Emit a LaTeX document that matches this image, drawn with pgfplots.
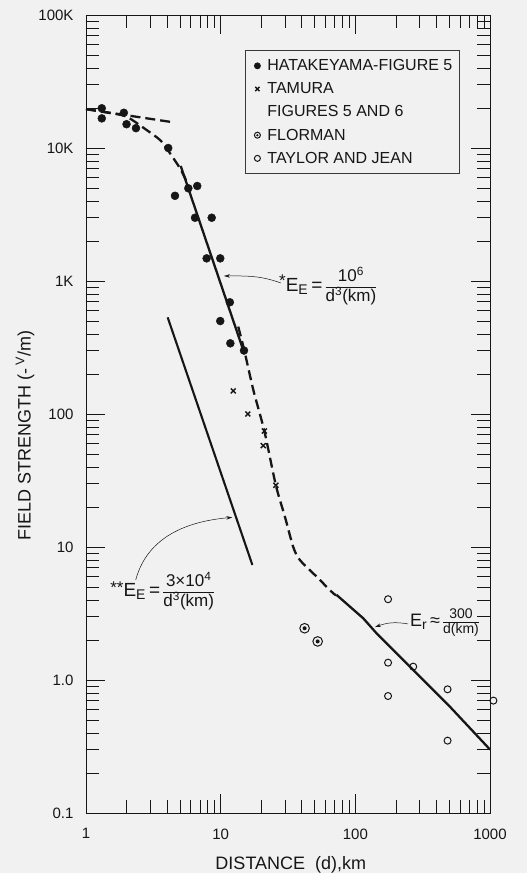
\documentclass[border=0pt]{standalone}
\usepackage{fontspec}
\setmainfont{Liberation Sans}
\usepackage{pgfplots}
\pgfplotsset{compat=1.18}
\usetikzlibrary{arrows.meta}
\definecolor{bg}{RGB}{241,241,241}
\definecolor{ink}{RGB}{22,22,22}
\pgfdeclareplotmark{circdot}{%
  \pgfpathcircle{\pgfpointorigin}{\pgfplotmarksize}\pgfusepathqstroke
  \pgfpathcircle{\pgfpointorigin}{0.42\pgfplotmarksize}\pgfusepathqfill}
\newcommand{\fr}[2]{\renewcommand{\arraystretch}{0.85}\begin{tabular}{@{}c@{}}#1\\\hline #2\end{tabular}}
\begin{document}
\begin{tikzpicture}
\useasboundingbox (-86pt,-60pt) rectangle (441pt,813pt);
\fill[bg] (-86pt,-60pt) rectangle (441pt,813pt);
\begin{axis}[
  scale only axis, width=404pt, height=798pt,
  xmode=log, ymode=log,
  xmin=1, xmax=1000, ymin=0.1, ymax=100000,
  clip=false,
  axis line style={ink, line width=0.8pt},
  tickwidth=19pt, subtickwidth=13pt,
  every tick/.append style={ink, line width=0.6pt},
  xtick={1,10,100,1000}, xticklabels={1,10,100,1000},
  minor xtick={2,3,4,5,6,7,8,9,20,30,40,50,60,70,80,90,200,300,400,500,600,700,800,900},
  ytick={0.1,1,10,100,1000,10000,100000},
  yticklabels={0.1,1.0,10,100,1K,10K,100K},
  minor ytick={0.2,0.3,0.4,0.5,0.6,0.7,0.8,0.9,2,3,4,5,6,7,8,9,20,30,40,50,60,70,80,90,200,300,400,500,600,700,800,900,2000,3000,4000,5000,6000,7000,8000,9000,20000,30000,40000,50000,60000,70000,80000,90000},
  ticklabel style={font=\fontsize{15}{17}\selectfont, text=ink},
  xticklabel style={yshift=-12pt},
  yticklabel style={xshift=-9pt},
  xlabel={DISTANCE\ \ (d),km},
  ylabel={FIELD STRENGTH (-\,\textsuperscript{V}/m)},
  label style={font=\fontsize{18}{20}\selectfont, text=ink},
  xlabel style={at={(axis description cs:0.507,-0.0702)}, anchor=base, inner sep=0pt},
  ylabel style={at={(axis description cs:-0.151,0.473)}, anchor=center},
  legend style={at={(0.3936,0.956)}, anchor=north west, draw=ink!85, line width=0.8pt,
    fill=none, font=\fontsize{16}{18}\selectfont, text=ink, inner xsep=5pt, inner ysep=7pt,
    row sep=6.5pt, cells={anchor=west}},
  legend image code/.code={\path[draw=none,fill=none] (-2pt,0pt) -- (13pt,0pt);\draw[only marks,#1] plot coordinates {(5pt,0pt)};},
  legend image post style={mark size=3pt},
]
% data series
\addplot[only marks, mark=*, mark size=4pt, ink] coordinates {
(1.31,19900) (1.31,16700) (1.91,18400) (2.0,15100) (2.35,14100) (4.08,10000)
(4.58,4370) (5.75,4980) (6.70,5180) (6.45,2990) (8.58,2990) (7.87,1480)
(9.93,1480) (11.7,692) (9.93,500) (11.8,340) (14.9,300)};
\addlegendentry{HATAKEYAMA-FIGURE 5}
\addplot[only marks, mark=x, mark size=3.5pt, line width=1.4pt, ink] coordinates {
(12.4,149) (15.9,100) (21.1,74.5) (20.7,57.8) (25.7,29.1)};
\addlegendentry{TAMURA}
\addlegendimage{empty legend}
\addlegendentry{FIGURES 5 AND 6}
\addplot[only marks, mark=circdot, mark size=4.8pt, line width=1pt, ink] coordinates {
(42.0,2.45) (52.5,1.95)};
\addlegendentry{FLORMAN}
\addplot[only marks, mark=o, mark size=3.5pt, line width=1pt, ink] coordinates {
(175,4.05) (175,1.35) (269,1.26) (175,0.758) (484,0.851) (484,0.35) (1060,0.70)};
\addlegendentry{TAYLOR AND JEAN}
% curves
\addplot[ink, line width=2.3pt, dash pattern=on 10pt off 5pt, forget plot] coordinates {(1,19600) (4.45,15600)};
\addplot[ink, line width=2.3pt, dash pattern=on 10pt off 5pt, smooth, forget plot] coordinates {
(1,19600) (1.51,18300) (2.0,17200) (2.82,13650) (3.54,11500) (4.05,9650) (4.99,7030) (5.59,5590)};
\addplot[ink, line width=2.3pt, forget plot] coordinates {(5.05,7330) (14.7,303)};
\addplot[ink, line width=2.3pt, dash pattern=on 10pt off 5pt, smooth, forget plot] coordinates {
(13.5,454) (14.95,303) (17.5,151) (21.1,74.5) (25.7,29.1) (30.0,16.9) (34.6,10.0)
(38.8,7.98) (51.6,5.98) (68.5,4.49) (72.6,4.36)};
\addplot[ink, line width=2.3pt, forget plot] coordinates {
(72.6,4.36) (114.5,2.91) (144,2.24) (319,1.0) (504,0.63) (1000,0.3)};
\addplot[ink, line width=2.1pt, forget plot] coordinates {(4.04,533) (17.2,7.33)};
% axis tick marks (inside, all four sides)
\pgfplotsinvokeforeach{2,3,4,5,6,7,8,9,20,30,40,50,60,70,80,90,200,300,400,500,600,700,800,900}{
  \draw[ink, line width=0.6pt] (axis cs:#1,0.1) -- ++(0pt,13pt);
  \draw[ink, line width=0.6pt] (axis cs:#1,100000) -- ++(0pt,-13pt);}
\pgfplotsinvokeforeach{10,100}{
  \draw[ink, line width=0.6pt] (axis cs:#1,0.1) -- ++(0pt,19pt);
  \draw[ink, line width=0.6pt] (axis cs:#1,100000) -- ++(0pt,-19pt);}
\pgfplotsinvokeforeach{0.2,0.3,0.4,0.5,0.6,0.7,0.8,0.9,2,3,4,5,6,7,8,9,20,30,40,50,60,70,80,90,200,300,400,500,600,700,800,900,2000,3000,4000,5000,6000,7000,8000,9000,20000,30000,40000,50000,60000,70000,80000,90000}{
  \draw[ink, line width=0.6pt] (axis cs:1,#1) -- ++(13pt,0pt);
  \draw[ink, line width=0.6pt] (axis cs:1000,#1) -- ++(-13pt,0pt);}
\pgfplotsinvokeforeach{1,10,100,1000,10000}{
  \draw[ink, line width=0.6pt] (axis cs:1,#1) -- ++(19pt,0pt);
  \draw[ink, line width=0.6pt] (axis cs:1000,#1) -- ++(-19pt,0pt);}
% annotations
\node[anchor=west, text=ink, font=\fontsize{19}{21}\selectfont, inner sep=0pt] at (axis cs:27.1,902)
  {\raisebox{5pt}{\fontsize{17}{19}\selectfont *}E\textsubscript{\fontsize{14}{16}\selectfont E}\,=\,{\fontsize{17}{19}\selectfont\fr{10\textsuperscript{6}}{d\textsuperscript{3}(km)}}};
\draw[ink, line width=0.5pt, -{Stealth[length=6pt,width=3.5pt]}] (axis cs:28.0,966) to[out=160,in=0] (axis cs:10.58,1091);
\node[anchor=west, text=ink, font=\fontsize{19}{21}\selectfont, inner sep=0pt] at (axis cs:1.51,4.59)
  {\raisebox{3pt}{\fontsize{17}{19}\selectfont **}E\textsubscript{\fontsize{14}{16}\selectfont E}\,=\,{\fontsize{17}{19}\selectfont\fr{3\texttimes10\textsuperscript{4}}{d\textsuperscript{3}(km)}}};
\draw[ink, line width=0.5pt, -{Stealth[length=6pt,width=3.5pt]}] (axis cs:2.34,5.65) to[out=75,in=185] (axis cs:12.2,16.7);
\node[anchor=west, text=ink, font=\fontsize{18}{20}\selectfont, inner sep=0pt] at (axis cs:254,2.69)
  {E\textsubscript{\fontsize{14}{16}\selectfont r}\,≈\,{\fontsize{14}{16}\selectfont\fr{300}{d(km)}}};
\draw[ink, line width=0.5pt, -{Stealth[length=6pt,width=3.5pt]}] (axis cs:246,2.64) to[out=170,in=20] (axis cs:140,2.50);
\end{axis}
\end{tikzpicture}
\end{document}
